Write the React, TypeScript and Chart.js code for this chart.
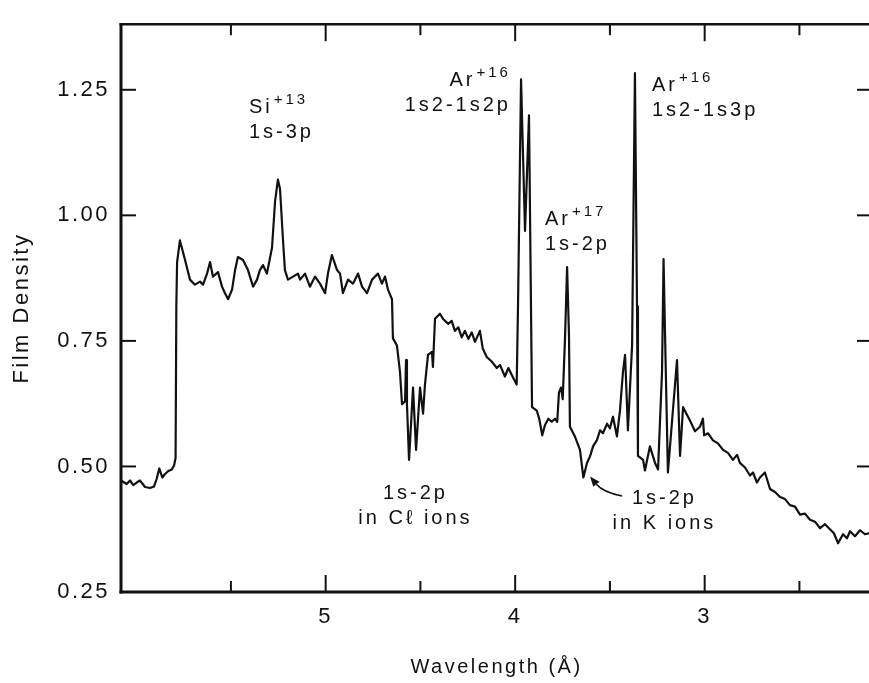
import React, { useEffect, useRef } from 'react';
import { Chart, registerables } from 'chart.js';

Chart.register(...registerables);

const FONT = '"Liberation Sans", Arial, Helvetica, sans-serif';
const INK = '#111111';

// Axis ranges (x is wavelength in Å, drawn reversed)
const X_MIN = 2.117;
const X_MAX = 6.08;
const Y_MIN = 0.25;
const Y_MAX = 1.3806;

const yTicks = [0.25, 0.5, 0.75, 1.0, 1.25];
const rightTicks = [0.5, 0.75, 1.0, 1.25];
const xMajorTicks = [5, 4, 3];
const xMinorTicks = [5.5, 4.5, 3.5, 2.5];

// Spectrum trace: wavelength (Å) and film density
const wavelength = [
  6.080, 6.050, 6.032, 6.015, 5.997, 5.980, 5.953, 5.927, 5.906, 5.892,
  5.878, 5.862, 5.848, 5.830, 5.812, 5.800, 5.792, 5.788, 5.784, 5.769,
  5.742, 5.716, 5.690, 5.663, 5.647, 5.626, 5.610, 5.595, 5.568, 5.547,
  5.531, 5.515, 5.494, 5.478, 5.463, 5.436, 5.410, 5.383, 5.362, 5.347,
  5.331, 5.310, 5.283, 5.267, 5.252, 5.241, 5.225, 5.215, 5.199, 5.172,
  5.146, 5.135, 5.109, 5.083, 5.056, 5.030, 5.003, 4.988, 4.967, 4.940,
  4.924, 4.909, 4.882, 4.856, 4.829, 4.808, 4.782, 4.755, 4.724, 4.703,
  4.687, 4.671, 4.650, 4.645, 4.624, 4.608, 4.597, 4.581, 4.576, 4.571,
  4.560, 4.539, 4.523, 4.502, 4.486, 4.476, 4.460, 4.439, 4.434, 4.423,
  4.397, 4.379, 4.353, 4.335, 4.318, 4.300, 4.282, 4.265, 4.247, 4.229,
  4.212, 4.186, 4.171, 4.150, 4.124, 4.097, 4.080, 4.054, 4.036, 4.010,
  3.992, 3.985, 3.969, 3.948, 3.927, 3.911, 3.886, 3.873, 3.857, 3.843,
  3.825, 3.807, 3.790, 3.778, 3.769, 3.758, 3.749, 3.737, 3.726, 3.716,
  3.711, 3.684, 3.658, 3.640, 3.621, 3.605, 3.589, 3.568, 3.552, 3.537,
  3.515, 3.500, 3.484, 3.463, 3.447, 3.431, 3.420, 3.405, 3.383, 3.368,
  3.357, 3.352, 3.325, 3.315, 3.289, 3.262, 3.246, 3.225, 3.217, 3.209,
  3.194, 3.172, 3.146, 3.130, 3.114, 3.077, 3.051, 3.025, 3.009, 3.003,
  2.982, 2.956, 2.930, 2.903, 2.877, 2.851, 2.829, 2.814, 2.787, 2.761,
  2.745, 2.724, 2.708, 2.682, 2.655, 2.629, 2.602, 2.576, 2.550, 2.523,
  2.497, 2.471, 2.444, 2.418, 2.391, 2.365, 2.339, 2.318, 2.296, 2.270,
  2.249, 2.233, 2.207, 2.180, 2.154, 2.133, 2.117,
];

const density = [
  0.472, 0.465, 0.472, 0.463, 0.468, 0.472, 0.459, 0.457, 0.460, 0.475,
  0.496, 0.478, 0.485, 0.491, 0.494, 0.502, 0.517, 0.819, 0.907, 0.950,
  0.911, 0.872, 0.862, 0.868, 0.862, 0.884, 0.907, 0.878, 0.887, 0.858,
  0.845, 0.833, 0.852, 0.891, 0.917, 0.911, 0.891, 0.858, 0.872, 0.891,
  0.901, 0.884, 0.936, 1.028, 1.071, 1.053, 0.950, 0.891, 0.872, 0.878,
  0.884, 0.872, 0.884, 0.858, 0.878, 0.864, 0.845, 0.884, 0.921, 0.891,
  0.884, 0.845, 0.872, 0.864, 0.884, 0.858, 0.845, 0.872, 0.884, 0.864,
  0.878, 0.852, 0.833, 0.755, 0.741, 0.689, 0.624, 0.630, 0.712, 0.624,
  0.513, 0.657, 0.533, 0.657, 0.605, 0.663, 0.722, 0.728, 0.698, 0.794,
  0.804, 0.793, 0.784, 0.790, 0.770, 0.777, 0.757, 0.770, 0.754, 0.767,
  0.748, 0.770, 0.735, 0.718, 0.709, 0.696, 0.702, 0.679, 0.696, 0.676,
  0.663, 0.819, 1.271, 0.969, 1.199, 0.618, 0.611, 0.595, 0.562, 0.582,
  0.595, 0.589, 0.595, 0.589, 0.647, 0.657, 0.634, 0.755, 0.897, 0.761,
  0.579, 0.559, 0.533, 0.478, 0.507, 0.520, 0.540, 0.553, 0.572, 0.566,
  0.585, 0.576, 0.599, 0.560, 0.611, 0.689, 0.722, 0.572, 0.741, 1.283,
  0.819, 0.521, 0.513, 0.492, 0.540, 0.507, 0.494, 0.689, 0.913, 0.761,
  0.488, 0.591, 0.712, 0.521, 0.618, 0.591, 0.570, 0.579, 0.595, 0.562,
  0.566, 0.552, 0.546, 0.533, 0.527, 0.513, 0.523, 0.507, 0.498, 0.482,
  0.488, 0.468, 0.478, 0.488, 0.455, 0.449, 0.439, 0.435, 0.423, 0.420,
  0.404, 0.406, 0.394, 0.390, 0.377, 0.385, 0.375, 0.367, 0.347, 0.365,
  0.357, 0.371, 0.361, 0.373, 0.365, 0.367, 0.365,
];

// Text annotations anchored in data coordinates: [main text, superscript]
const annotations = [
  { x: 5.405, y: 1.203, align: 'left', lines: [['Si', '+13'], ['1s-3p']] },
  { x: 4.038, y: 1.258, align: 'right', lines: [['Ar', '+16'], ['1s2-1s2p']] },
  { x: 3.843, y: 0.981, align: 'left', lines: [['Ar', '+17'], ['1s-2p']] },
  { x: 3.278, y: 1.248, align: 'left', lines: [['Ar', '+16'], ['1s2-1s3p']] },
  { x: 4.534, y: 0.435, align: 'center', lines: [['1s-2p'], ['in C\u2113 ions']] },
  { x: 3.22, y: 0.425, align: 'center', lines: [['1s-2p'], ['in K ions']] },
];

// Arrow pointing to the K-ion dip
const arrowFrom = [3.436, 0.441];
const arrowCtrl = [3.537, 0.449];
const arrowTo = [3.605, 0.48];

const framePlugin = {
  id: 'frameAndText',
  beforeLayout(chart: any) {
    (chart.ctx as any).letterSpacing = '2.5px';
  },
  beforeDraw(chart: any) {
    (chart.ctx as any).letterSpacing = '2.5px';
  },
  afterDraw(chart: any) {
    const { ctx, chartArea, scales } = chart;
    const { left, right, top, bottom } = chartArea;
    const xs = scales.x;
    const ys = scales.y;
    ctx.save();
    ctx.strokeStyle = INK;
    ctx.lineCap = 'butt';
    const line = (x1: number, y1: number, x2: number, y2: number, w: number) => {
      ctx.lineWidth = w;
      ctx.beginPath();
      ctx.moveTo(x1, y1);
      ctx.lineTo(x2, y2);
      ctx.stroke();
    };
    // frame
    line(left, top - 1, left, bottom + 1.5, 3);
    line(left - 1.5, bottom, right, bottom, 3);
    line(left - 1.5, top, right, top, 2.5);
    line(right, top, right, bottom, 3);
    // inward ticks
    xMajorTicks.forEach((v) => {
      const px = xs.getPixelForValue(v);
      line(px, bottom, px, bottom - 17, 2);
      line(px, top, px, top + 17, 2);
    });
    xMinorTicks.forEach((v) => {
      const px = xs.getPixelForValue(v);
      line(px, bottom, px, bottom - 11, 2);
      line(px, top, px, top + 11, 2);
    });
    yTicks.forEach((v) => {
      const py = ys.getPixelForValue(v);
      line(left, py, left + 15, py, 2);
    });
    rightTicks.forEach((v) => {
      const py = ys.getPixelForValue(v);
      line(right, py, right - 15, py, 2);
    });

    // annotations
    ctx.fillStyle = INK;
    ctx.textBaseline = 'alphabetic';
    ctx.textAlign = 'left';
    (ctx as any).letterSpacing = '3px';
    const LINE_GAP = 25;
    annotations.forEach((a) => {
      const ax = xs.getPixelForValue(a.x);
      const ay = ys.getPixelForValue(a.y);
      a.lines.forEach((ln: string[], i: number) => {
        ctx.font = `20px ${FONT}`;
        const w1 = ctx.measureText(ln[0]).width;
        let w2 = 0;
        if (ln[1]) {
          ctx.font = `15px ${FONT}`;
          w2 = ctx.measureText(ln[1]).width + 1;
        }
        const total = w1 + w2 - 3;
        let sx = ax;
        if (a.align === 'right') sx = ax - total;
        else if (a.align === 'center') sx = ax - total / 2;
        const by = ay + i * LINE_GAP;
        ctx.font = `20px ${FONT}`;
        ctx.fillText(ln[0], sx, by);
        if (ln[1]) {
          ctx.font = `15px ${FONT}`;
          ctx.fillText(ln[1], sx + w1 + 1, by - 9);
        }
      });
    });

    // arrow
    const fx = xs.getPixelForValue(arrowFrom[0]);
    const fy = ys.getPixelForValue(arrowFrom[1]);
    const cx = xs.getPixelForValue(arrowCtrl[0]);
    const cy = ys.getPixelForValue(arrowCtrl[1]);
    const tx = xs.getPixelForValue(arrowTo[0]);
    const ty = ys.getPixelForValue(arrowTo[1]);
    const ang = Math.atan2(ty - cy, tx - cx);
    const hl = 10;
    const hw = 4;
    const bx = tx - hl * Math.cos(ang);
    const by = ty - hl * Math.sin(ang);
    ctx.lineWidth = 1.6;
    ctx.beginPath();
    ctx.moveTo(fx, fy);
    ctx.quadraticCurveTo(cx, cy, bx, by);
    ctx.stroke();
    ctx.beginPath();
    ctx.moveTo(tx, ty);
    ctx.lineTo(bx + hw * Math.sin(ang), by - hw * Math.cos(ang));
    ctx.lineTo(bx - hw * Math.sin(ang), by + hw * Math.cos(ang));
    ctx.closePath();
    ctx.fill();
    ctx.restore();
  },
};

export default function App() {
  const canvasRef = useRef<HTMLCanvasElement | null>(null);

  useEffect(() => {
    const canvas = canvasRef.current;
    if (!canvas) return;
    document.body.style.overflow = 'hidden';
    const points = wavelength.map((w, i) => ({ x: w, y: density[i] }));
    const chart = new Chart(canvas, {
      type: 'line',
      data: {
        datasets: [
          {
            data: points,
            borderColor: INK,
            borderWidth: 2.2,
            pointRadius: 0,
            tension: 0,
            fill: false,
            borderJoinStyle: 'round',
          } as any,
        ],
      },
      options: {
        animation: false,
        responsive: false,
        devicePixelRatio: 1,
        layout: { padding: { top: 12, right: 8, left: 0, bottom: 0 } },
        plugins: { legend: { display: false }, tooltip: { enabled: false } },
        scales: {
          x: {
            type: 'linear',
            reverse: true,
            min: X_MIN,
            max: X_MAX,
            afterBuildTicks: (s: any) => {
              s.ticks = xMajorTicks.map((v) => ({ value: v }));
            },
            afterFit: (s: any) => {
              s.height = 91;
            },
            grid: { display: false, drawTicks: false },
            border: { display: false },
            ticks: {
              color: INK,
              font: { family: FONT, size: 22 },
              padding: 12,
              maxRotation: 0,
              autoSkip: false,
              callback: (v: any) => String(v),
            },
            title: {
              display: true,
              text: 'Wavelength (\u00C5)',
              color: INK,
              font: { family: FONT, size: 20 },
              padding: { top: 0, bottom: 4 },
            },
          },
          y: {
            type: 'linear',
            min: Y_MIN,
            max: Y_MAX,
            afterBuildTicks: (s: any) => {
              s.ticks = yTicks.map((v) => ({ value: v }));
            },
            afterFit: (s: any) => {
              s.width = 121;
            },
            grid: { display: false, drawTicks: false },
            border: { display: false },
            ticks: {
              color: INK,
              font: { family: FONT, size: 22 },
              padding: 11,
              callback: (v: any) => Number(v).toFixed(2),
            },
            title: {
              display: true,
              text: 'Film Density',
              color: INK,
              font: { family: FONT, size: 22 },
              padding: { top: 9, bottom: 0 },
            },
          },
        },
      },
      plugins: [framePlugin],
    } as any);
    return () => {
      chart.destroy();
    };
  }, []);

  return (
    <div
      style={{
        position: 'fixed',
        left: 0,
        top: 0,
        width: 869,
        height: 683,
        overflow: 'hidden',
        background: '#ffffff',
      }}
    >
      <canvas ref={canvasRef} width={880} height={683} style={{ display: 'block', width: 880, height: 683 }} />
    </div>
  );
}
